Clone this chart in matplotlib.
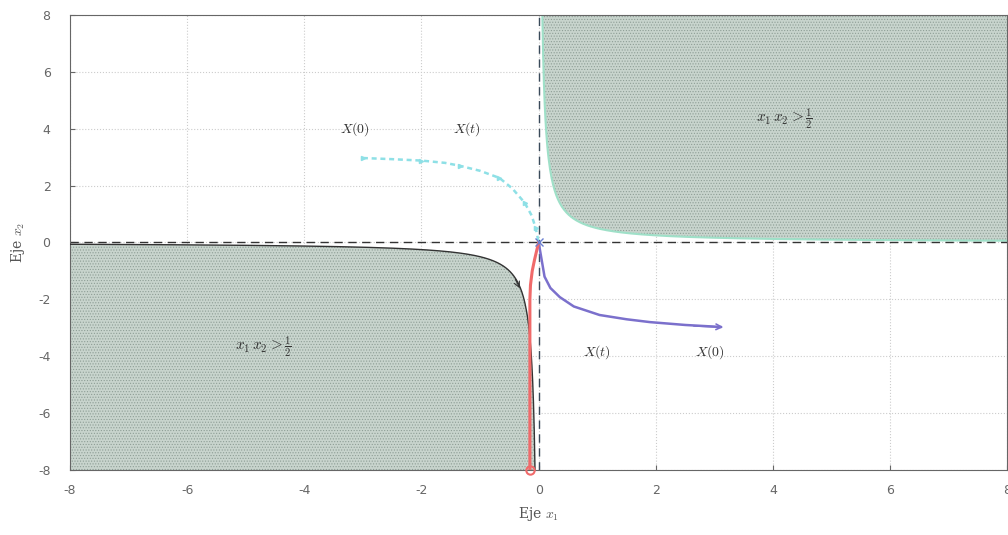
import numpy as np
import matplotlib
matplotlib.use('Agg')
from matplotlib import pyplot as plt

plt.rcParams['mathtext.fontset'] = 'cm'
plt.rcParams['hatch.linewidth'] = 0.5
plt.rcParams['axes.unicode_minus'] = False

# Trayectorias del sistema (estimadas)
x_cian = [-3.0, -2.5, -2.0, -1.6, -1.35, -1.0, -0.67, -0.45, -0.24, -0.12, -0.05, 0.0]
y_cian = [2.97, 2.93, 2.88, 2.8, 2.7, 2.52, 2.27, 1.9, 1.4, 0.95, 0.5, 0.0]

x_azul = [0.0, 0.05, 0.1, 0.2, 0.36, 0.6, 1.04, 1.5, 1.9, 2.5, 3.1]
y_azul = [0.0, -0.6, -1.2, -1.6, -1.92, -2.25, -2.55, -2.7, -2.8, -2.9, -2.97]

x_rojo = [-0.15, -0.15, -0.15, -0.15, -0.14, -0.11, -0.07, -0.03, 0.0]
y_rojo = [-8.0, -6.0, -4.0, -2.0, -1.5, -1.0, -0.6, -0.25, 0.0]

# Etiquetas de texto
etiquetas = ['$X(0)$', '$X(t)$', '$X(t)$', '$X(0)$']
etiq_x = [-3.14, -1.23, 0.99, 2.92]
etiq_y = [4.0, 4.0, -3.85, -3.85]

ticks = [-8, -6, -4, -2, 0, 2, 4, 6, 8]
c = 0.5  # x1*x2 = 1/2

fig = plt.figure(figsize=(10.08, 5.35), dpi=100)
ax = fig.add_axes([0.0694, 0.1215, 0.93, 0.8505])

relleno = '#c8d4cd'
# Region x1*x2 > 1/2, primer cuadrante
xp = np.linspace(c / 8, 8, 600)
ax.fill_between(xp, c / xp, 8, facecolor=relleno, edgecolor='#8e9e96',
                hatch='......', linewidth=0, zorder=1)
ax.plot(xp, c / xp, color='#9fe0c8', lw=1.5, zorder=2)

# Region x1*x2 > 1/2, tercer cuadrante
xn = np.linspace(-8, -c / 8, 600)
ax.fill_between(xn, -8, c / xn, facecolor=relleno, edgecolor='#8e9e96',
                hatch='......', linewidth=0, zorder=1)
ax.plot(xn, c / xn, color='#333333', lw=1.0, zorder=3)
ax.annotate('', xy=(-0.3, -1.7), xytext=(-0.42, -1.2),
            arrowprops=dict(arrowstyle='->', color='#333333', lw=0.8), zorder=3)

# Ejes punteados
ax.axhline(0, color='#333333', ls=(0, (6, 4)), lw=1.0, zorder=2)
ax.axvline(0, color='#3a4a5a', ls=(0, (6, 4)), lw=1.0, zorder=2)

# Trayectorias
ax.plot(x_cian, y_cian, color='#8ee0e6', ls=(0, (2, 1.5)), lw=1.8,
        marker='>', markersize=3, markevery=2, zorder=4)
ax.plot(x_azul, y_azul, color='#7b70cc', lw=1.8, zorder=4)
ax.annotate('', xy=(3.2, -2.98), xytext=(2.6, -2.93),
            arrowprops=dict(arrowstyle='->', color='#7b70cc', lw=1.2), zorder=4)
ax.plot(x_rojo, y_rojo, color='#f06a6a', lw=2.2, zorder=4)
ax.plot(x_rojo[0], y_rojo[0], 'o', mfc='none', mec='#f06a6a', ms=6, mew=1.5,
        zorder=5, clip_on=False)
ax.plot(0, 0, marker='x', color='#6a7fd0', ms=6, zorder=5)

for t, px, py in zip(etiquetas, etiq_x, etiq_y):
    ax.text(px, py, t, fontsize=10, color='#333333', ha='center', va='center', zorder=6)

ax.text(-4.7, -3.67, r'$x_1\,x_2 > \frac{1}{2}$', fontsize=11, color='#333333',
        ha='center', va='center', zorder=6)
ax.text(4.2, 4.37, r'$x_1\,x_2 > \frac{1}{2}$', fontsize=11, color='#333333',
        ha='center', va='center', zorder=6)

ax.set_xlim(-8, 8)
ax.set_ylim(-8, 8)
ax.set_xticks(ticks)
ax.set_yticks(ticks)
ax.grid(True, color='#cccccc', ls=':', lw=0.8)
ax.set_axisbelow(True)
ax.tick_params(labelsize=9, labelcolor='#666666', color='#666666', direction='in')
ax.tick_params(axis='x', pad=10)
ax.tick_params(axis='y', pad=14)
for s in ax.spines.values():
    s.set_color('#666666')

ax.set_xlabel(r'Eje $x_1$', fontsize=10, color='#555555', family='serif', labelpad=6)
ax.set_ylabel(r'Eje $x_2$', fontsize=10, color='#555555', family='serif', labelpad=8)

fig.savefig('out.png', dpi=100)
